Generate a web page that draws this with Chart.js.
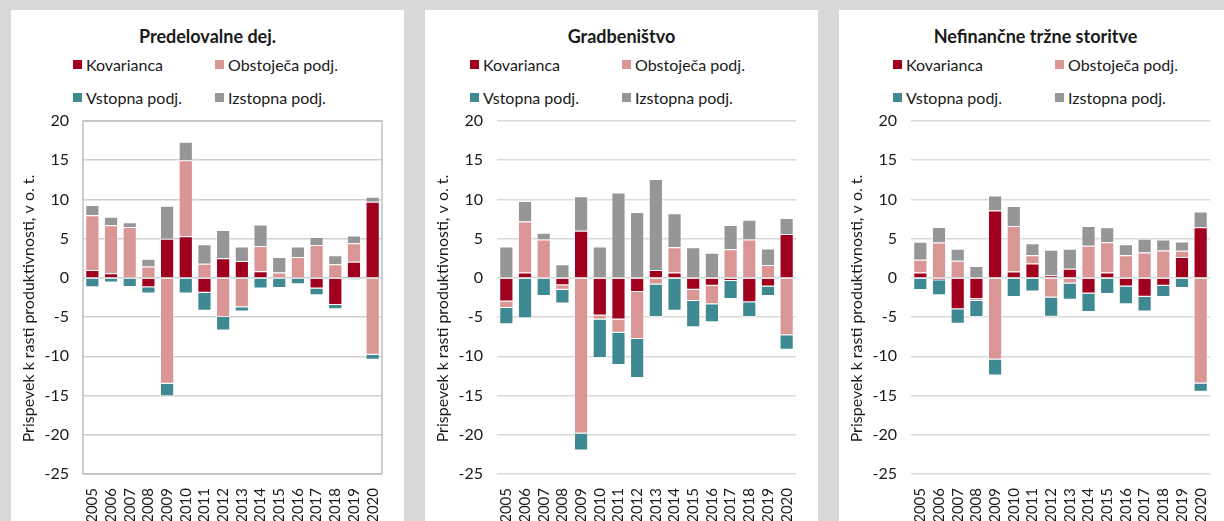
<!DOCTYPE html>
<html lang="sl">
<head>
<meta charset="utf-8">
<title>Prispevek k rasti produktivnosti</title>
<script src="https://cdn.jsdelivr.net/npm/chart.js@4.4.1/dist/chart.umd.min.js"></script>
<style>
  html, body {
    margin: 0;
    padding: 0;
    width: 1224px;
    height: 521px;
    overflow: hidden;
    background: #d9d9d9;
    font-family: Lato, 'Liberation Sans', sans-serif;
    color: #1a1a1a;
  }
  .panel {
    position: absolute;
    top: 10px;
    width: 393px;
    height: 511px;
    background: #ffffff;
  }
  .panel canvas {
    position: absolute;
    left: 0;
    top: 0;
  }
  .panel h2 {
    position: absolute;
    left: 0;
    right: 0;
    top: 15px;
    margin: 0;
    text-align: center;
    font-size: 18px;
    font-weight: 700;
  }
  .legend-item {
    position: absolute;
    font-size: 16px;
    line-height: 20px;
    white-space: nowrap;
  }
  .legend-item i {
    position: absolute;
    left: -13px;
    top: 5px;
    width: 9px;
    height: 9px;
  }
</style>
</head>
<body>

<script>
const YEARS = ['2005', '2006', '2007', '2008', '2009', '2010', '2011', '2012',
  '2013', '2014', '2015', '2016', '2017', '2018', '2019', '2020'];

const SERIES_NAMES = ['Kovarianca', 'Obstoječa podj.', 'Vstopna podj.', 'Izstopna podj.'];
const SERIES_COLORS = ['#a0001e', '#d99694', '#3f8a92', '#969696'];

const Y_TICKS = [20, 15, 10, 5, 0, -5, -10, -15, -20, -25];
const Y_TITLE = 'Prispevek k rasti produktivnosti, v o. t.';

// Predelovalne dejavnosti
const manuKov = [1.0, 0.6, 0, -1.2, 5.0, 5.3, -1.9, 2.5, 2.15, 0.85, 0, 0.1, -1.35, -3.45, 2.05, 9.7];
const manuObst = [7.0, 6.1, 6.5, 1.45, -13.5, 9.7, 1.8, -5.0, -3.75, 3.2, 0.7, 2.55, 4.2, 1.75, 2.35, -9.8];
const manuVst = [-1.2, -0.6, -1.15, -0.8, -1.6, -2.0, -2.3, -1.7, -0.55, -1.35, -1.3, -0.8, -0.85, -0.55, -0.25, -0.65];
const manuIzst = [1.3, 1.1, 0.6, 1.0, 4.2, 2.35, 2.5, 3.6, 1.85, 2.75, 1.95, 1.35, 1.0, 1.15, 1.0, 0.65];

// Gradbeništvo
const consKov = [-3.0, 0.7, 0, -0.95, 6.0, -4.8, -5.3, -1.8, 1.0, 0.7, -1.5, -1.0, -0.4, -3.1, -1.1, 5.6];
const consObst = [-0.85, 6.5, 4.9, -0.55, -19.85, -0.5, -1.7, -6.0, -0.85, 3.2, -1.45, -2.35, 3.65, 4.9, 1.65, -7.3];
const consVst = [-2.05, -5.15, -2.3, -1.75, -2.15, -4.9, -4.1, -4.95, -4.15, -4.2, -3.35, -2.3, -2.3, -1.9, -1.2, -1.85];
const consIzst = [4.0, 2.6, 0.85, 1.75, 4.4, 4.0, 10.9, 8.4, 11.6, 4.35, 3.9, 3.2, 3.1, 2.5, 2.1, 2.05];

// Nefinančne tržne storitve
const servKov = [0.7, -0.3, -4.0, -2.7, 8.6, 0.8, 1.85, 0.3, 1.15, -2.0, 0.7, -1.1, -2.4, -1.0, 2.65, 6.45];
const servObst = [1.6, 4.5, 2.2, -0.25, -10.4, 5.8, 1.05, -2.5, -0.7, 4.1, 3.85, 2.9, 3.25, 3.5, 0.8, -13.45];
const servVst = [-1.55, -1.9, -1.85, -2.05, -2.05, -2.45, -1.75, -2.45, -2.1, -2.35, -2.05, -2.25, -1.9, -1.45, -1.3, -1.05];
const servIzst = [2.3, 2.0, 1.5, 1.5, 1.9, 2.55, 1.5, 3.3, 2.55, 2.5, 1.9, 1.4, 1.75, 1.4, 1.2, 2.0];

const PANELS = [
  { title: 'Predelovalne dej.', left: 11, framed: true, legendX: [75, 217],
    series: [manuKov, manuObst, manuVst, manuIzst] },
  { title: 'Gradbeništvo', left: 425, framed: false, legendX: [58, 210],
    series: [consKov, consObst, consVst, consIzst] },
  { title: 'Nefinančne tržne storitve', left: 839, framed: false, legendX: [67, 229],
    series: [servKov, servObst, servVst, servIzst] },
];

const FONT = 'Lato, "Liberation Sans", sans-serif';

/* Panel one has a box round its plot area, the others only gridlines.
   The axis title sits a little below the plot's middle, so it is drawn here too. */
const framePlugin = {
  id: 'frame',
  afterDraw(chart, args, opts) {
    const { ctx, chartArea: a } = chart;
    ctx.save();
    if (opts.display) {
      ctx.strokeStyle = '#c0c0c0';
      ctx.lineWidth = 1.5;
      ctx.strokeRect(a.left, a.top, a.right - a.left, a.bottom - a.top);
    }
    ctx.translate(18, (a.top + a.bottom) / 2 + 11);
    ctx.rotate(-Math.PI / 2);
    ctx.fillStyle = '#1a1a1a';
    ctx.font = '16px ' + FONT;
    ctx.textAlign = 'center';
    ctx.textBaseline = 'middle';
    ctx.fillText(Y_TITLE, 0, 0);
    ctx.restore();
  },
};

function buildLegend(panel, el) {
  SERIES_NAMES.forEach((name, i) => {
    const item = document.createElement('div');
    item.className = 'legend-item';
    item.style.left = panel.legendX[i % 2] + 'px';
    item.style.top = (i < 2 ? 45 : 78) + 'px';
    const box = document.createElement('i');
    box.style.background = SERIES_COLORS[i];
    item.appendChild(box);
    item.appendChild(document.createTextNode(name));
    el.appendChild(item);
  });
}

function buildPanel(panel) {
  const el = document.createElement('div');
  el.className = 'panel';
  el.style.left = panel.left + 'px';
  document.body.appendChild(el);

  const h = document.createElement('h2');
  h.textContent = panel.title;
  el.appendChild(h);
  buildLegend(panel, el);

  const canvas = document.createElement('canvas');
  canvas.width = 393;
  canvas.height = 511;
  el.appendChild(canvas);

  const gridColor = panel.framed ? '#cfcfcf' : '#d9d9d9';

  new Chart(canvas, {
    type: 'bar',
    data: {
      labels: YEARS,
      datasets: SERIES_NAMES.map((name, i) => ({
        label: name,
        data: panel.series[i],
        backgroundColor: SERIES_COLORS[i],
        borderColor: 'rgba(255,255,255,0.55)',
        borderWidth: 1,
        barPercentage: 0.76,
        categoryPercentage: 1,
      })),
    },
    options: {
      responsive: false,
      animation: false,
      layout: { padding: { top: 111, right: 22, bottom: 0, left: 0 } },
      scales: {
        x: {
          stacked: true,
          grid: { display: false },
          border: { display: false },
          ticks: {
            color: '#1a1a1a',
            minRotation: 90,
            maxRotation: 90,
            autoSkip: false,
            padding: 6,
            font: { family: FONT, size: 15 },
          },
          afterFit(scale) { scale.height = 47; },
        },
        y: {
          stacked: true,
          min: -25,
          max: 20,
          afterBuildTicks(scale) {
            scale.ticks = Y_TICKS.map((v) => ({ value: v }));
          },
          grid: { color: gridColor, lineWidth: 1.5, drawTicks: false },
          border: { display: false },
          ticks: {
            color: '#1a1a1a',
            padding: 14,
            font: { family: FONT, size: 16 },
          },
          afterFit(scale) { scale.width = 72; },
        },
      },
      plugins: {
        legend: { display: false },
        tooltip: { enabled: false },
        frame: { display: panel.framed },
      },
    },
    plugins: [framePlugin],
  });
}

PANELS.forEach(buildPanel);
</script>
</body>
</html>
